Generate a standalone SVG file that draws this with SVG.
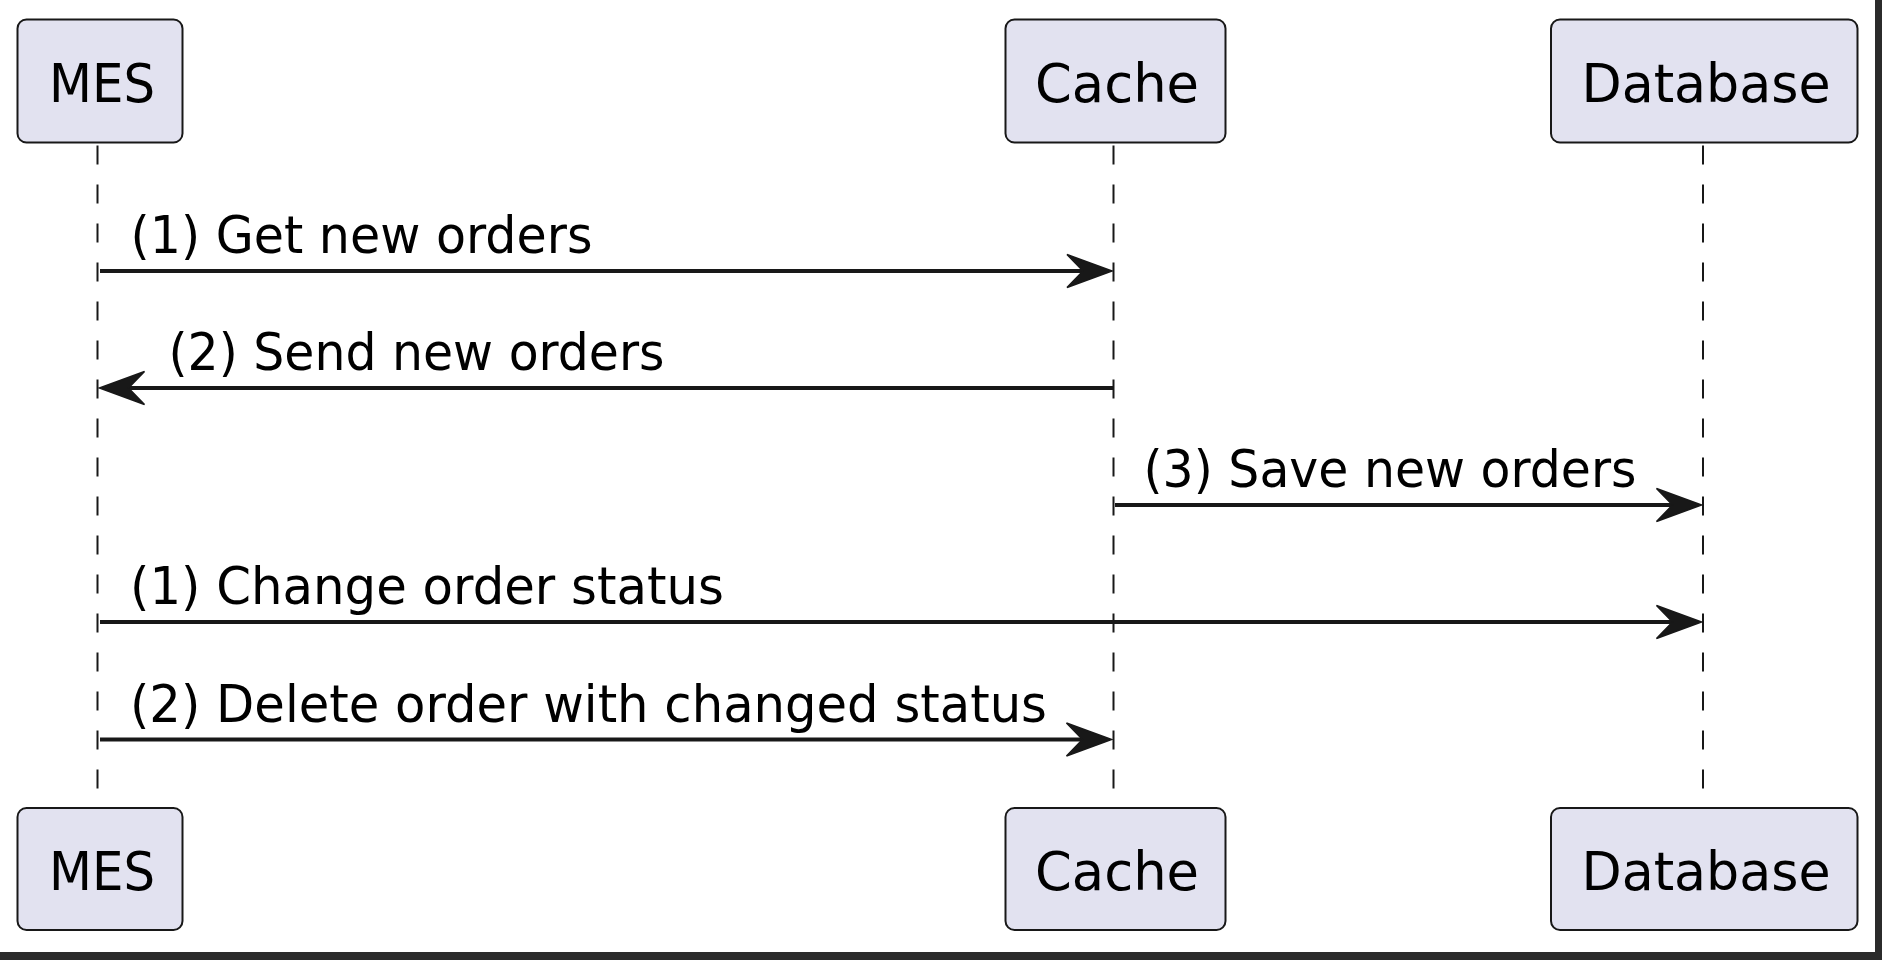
<svg xmlns="http://www.w3.org/2000/svg" width="1882" height="960" viewBox="0 0 1882 960">
<style>
.box{fill:#E2E2F0;stroke:#181818;stroke-width:2}
.pt{font-family:"DejaVu Sans",sans-serif;font-size:54px;fill:#000;text-anchor:middle}
.life{stroke:#181818;stroke-width:2;stroke-dasharray:19,20;fill:none}
.msg{stroke:#181818;stroke-width:4;fill:none}
.lbl{font-family:"DejaVu Sans",sans-serif;font-size:51px;fill:#000}
.head{fill:#181818;stroke:#181818;stroke-width:1.5;stroke-linejoin:miter}
</style>
<defs>
<polygon id="ah" class="head" points="0,0 -45,-16.5 -29,0 -45,16.5"/>
</defs>
<rect x="0" y="0" width="1882" height="960" fill="#FFFFFF"/>
<g id="lifelines">
<line class="life" x1="97.5" y1="145.5" x2="97.5" y2="808"/>
<line class="life" x1="1113.5" y1="145.5" x2="1113.5" y2="808"/>
<line class="life" x1="1703" y1="145.5" x2="1703" y2="808"/>
</g>
<g id="MES">
<rect class="box" x="17.5" y="19.5" width="165" height="123" rx="9"/>
<text class="pt" x="102" y="101.7" textLength="106" lengthAdjust="spacingAndGlyphs">MES</text>
</g>
<g id="Cache">
<rect class="box" x="1005.5" y="19.5" width="220" height="123" rx="9"/>
<text class="pt" x="1117" y="101.7" textLength="164" lengthAdjust="spacingAndGlyphs">Cache</text>
</g>
<g id="Database">
<rect class="box" x="1551" y="19.5" width="306.5" height="123" rx="9"/>
<text class="pt" x="1706" y="101.7" textLength="249" lengthAdjust="spacingAndGlyphs">Database</text>
</g>
<g id="MES_bottom">
<rect class="box" x="17.5" y="808" width="165" height="122" rx="9"/>
<text class="pt" x="102" y="890" textLength="106" lengthAdjust="spacingAndGlyphs">MES</text>
</g>
<g id="Cache_bottom">
<rect class="box" x="1005.5" y="808" width="220" height="122" rx="9"/>
<text class="pt" x="1117" y="890" textLength="164" lengthAdjust="spacingAndGlyphs">Cache</text>
</g>
<g id="Database_bottom">
<rect class="box" x="1551" y="808" width="306.5" height="122" rx="9"/>
<text class="pt" x="1706" y="890" textLength="249" lengthAdjust="spacingAndGlyphs">Database</text>
</g>
<g id="connectors">
<line class="msg" x1="100" y1="271" x2="1090" y2="271"/>
<use href="#ah" transform="translate(1112,271)"/>
<text class="lbl" x="130.5" y="253" textLength="462" lengthAdjust="spacingAndGlyphs">(1) Get new orders</text>
<line class="msg" x1="1113.5" y1="388" x2="122" y2="388"/>
<use href="#ah" transform="translate(99.5,388) scale(-1,1)"/>
<text class="lbl" x="168.5" y="370" textLength="496" lengthAdjust="spacingAndGlyphs">(2) Send new orders</text>
<line class="msg" x1="1115" y1="505" x2="1680" y2="505"/>
<use href="#ah" transform="translate(1701.5,505)"/>
<text class="lbl" x="1143.5" y="487" textLength="493" lengthAdjust="spacingAndGlyphs">(3) Save new orders</text>
<line class="msg" x1="100" y1="622" x2="1680" y2="622"/>
<use href="#ah" transform="translate(1701.5,622)"/>
<text class="lbl" x="130" y="604" textLength="594" lengthAdjust="spacingAndGlyphs">(1) Change order status</text>
<line class="msg" x1="100" y1="739.5" x2="1090" y2="739.5"/>
<use href="#ah" transform="translate(1111.5,739.5)"/>
<text class="lbl" x="130" y="721.5" textLength="917" lengthAdjust="spacingAndGlyphs">(2) Delete order with changed status</text>
</g>
<rect x="1875" y="0" width="7" height="960" fill="#2B2B2B"/>
<rect x="0" y="952" width="1882" height="8" fill="#2B2B2B"/>
</svg>
